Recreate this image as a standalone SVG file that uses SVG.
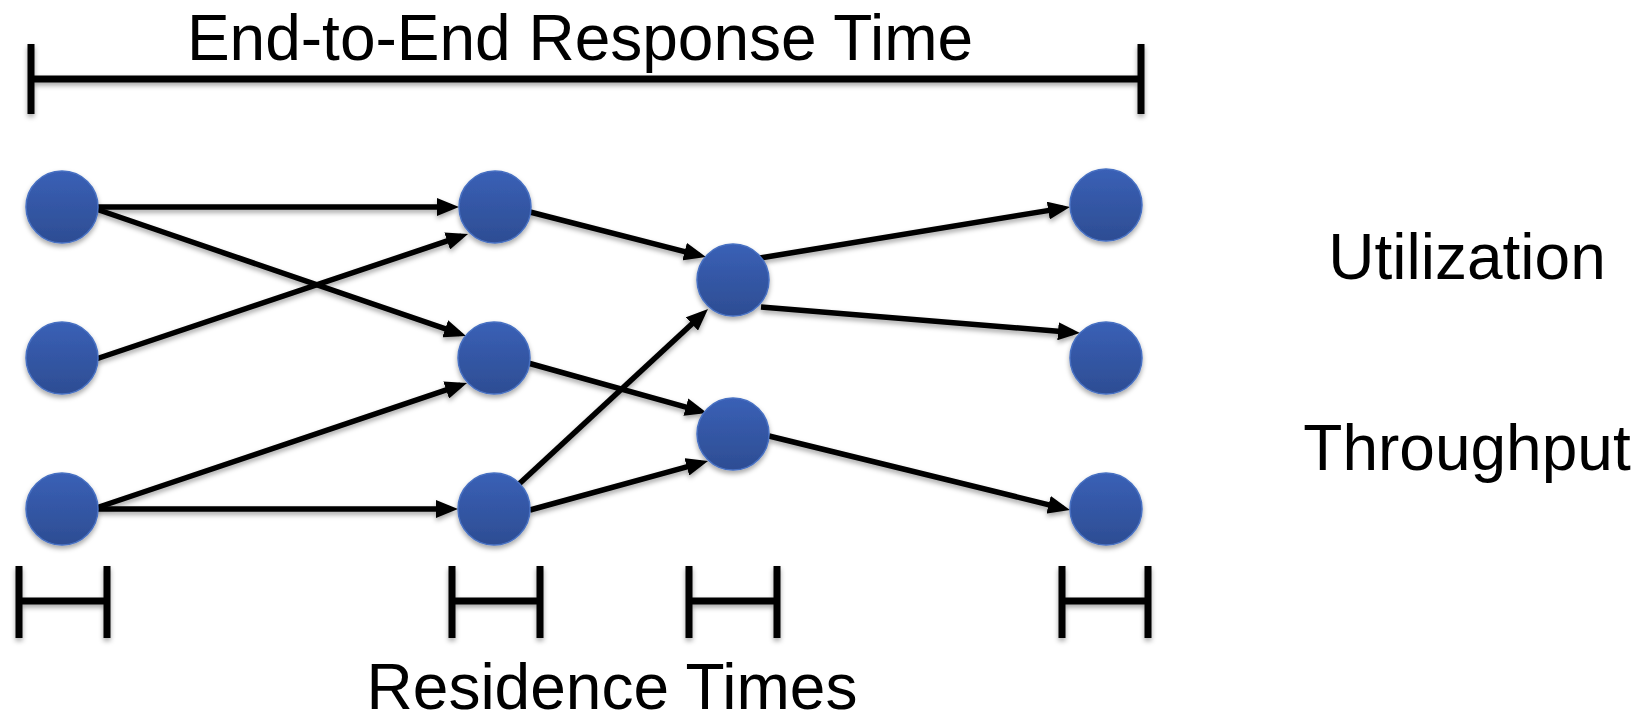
<svg xmlns="http://www.w3.org/2000/svg" width="1647" height="721" viewBox="0 0 1647 721">
<style>
.lbl{font-family:"Liberation Sans",Arial,sans-serif;font-size:64px;fill:#000;text-anchor:middle}
.node{fill:url(#ng);stroke:#4770c2;stroke-width:1.5;filter:url(#sh)}
.edge{stroke:#000;stroke-width:5.5;fill:none;marker-end:url(#ah)}
.bar{stroke:#000;stroke-width:7;fill:none;stroke-linecap:butt}
</style>
<defs>
<linearGradient id="ng" x1="0" y1="0" x2="0" y2="1">
<stop offset="0" stop-color="#3a60b6"/>
<stop offset="1" stop-color="#2d4d93"/>
</linearGradient>
<filter id="sh" x="-20%" y="-20%" width="140%" height="150%">
<feDropShadow dx="0" dy="3" stdDeviation="2.5" flood-color="#000" flood-opacity="0.35"/>
</filter>
<marker id="ah" markerUnits="userSpaceOnUse" viewBox="0 0 22 18" markerWidth="22" markerHeight="18" refX="15" refY="9" orient="auto">
<path d="M0,0 L22,9 L0,18 z" fill="#000"/>
</marker>
</defs>
<g id="top-span" filter="url(#sh)">
<line class="bar" x1="29" y1="79" x2="1143" y2="79"/>
<line class="bar" x1="31" y1="44" x2="31" y2="114"/>
<line class="bar" x1="1141" y1="44" x2="1141" y2="114"/>
</g>
<text id="title" class="lbl" x="580" y="60">End-to-End Response Time</text>
<g id="connectors" filter="url(#sh)">
<line class="edge" x1="98" y1="207" x2="452" y2="207"/>
<line class="edge" x1="96" y1="209" x2="459.4" y2="333.7"/>
<line class="edge" x1="96" y1="359" x2="461.4" y2="236.2"/>
<line class="edge" x1="96" y1="508" x2="460.4" y2="385.2"/>
<line class="edge" x1="98" y1="509" x2="451" y2="509"/>
<line class="edge" x1="530" y1="212" x2="699.2" y2="255.3"/>
<line class="edge" x1="528" y1="363" x2="700.3" y2="411.1"/>
<line class="edge" x1="519" y1="484" x2="702.9" y2="313.8"/>
<line class="edge" x1="530" y1="510" x2="701.3" y2="462.9"/>
<line class="edge" x1="760" y1="258" x2="1063.1" y2="208.1"/>
<line class="edge" x1="761" y1="307" x2="1073" y2="332.4"/>
<line class="edge" x1="769" y1="436" x2="1063.2" y2="508.3"/>
</g>
<g id="a1"><circle class="node" cx="62" cy="207" r="36"/></g>
<g id="a2"><circle class="node" cx="62" cy="358" r="36"/></g>
<g id="a3"><circle class="node" cx="62" cy="509" r="36"/></g>
<g id="b1"><circle class="node" cx="495" cy="207" r="36"/></g>
<g id="b2"><circle class="node" cx="494" cy="358" r="36"/></g>
<g id="b3"><circle class="node" cx="494" cy="509" r="36"/></g>
<g id="c1"><circle class="node" cx="733" cy="280" r="36"/></g>
<g id="c2"><circle class="node" cx="733" cy="434" r="36"/></g>
<g id="d1"><circle class="node" cx="1106" cy="205" r="36"/></g>
<g id="d2"><circle class="node" cx="1106" cy="358" r="36"/></g>
<g id="d3"><circle class="node" cx="1106" cy="509" r="36"/></g>
<text id="utilization" class="lbl" x="1467" y="279">Utilization</text>
<text id="throughput" class="lbl" x="1467" y="470">Throughput</text>
<g id="residence-brackets" filter="url(#sh)">
<path class="bar" d="M19,566 V638 M107,566 V638 M19,601 H107"/>
<path class="bar" d="M452,566 V638 M540,566 V638 M452,601 H540"/>
<path class="bar" d="M689,566 V638 M777,566 V638 M689,601 H777"/>
<path class="bar" d="M1062,566 V638 M1148,566 V638 M1062,601 H1148"/>
</g>
<text id="residence" class="lbl" x="612" y="709">Residence Times</text>
</svg>
